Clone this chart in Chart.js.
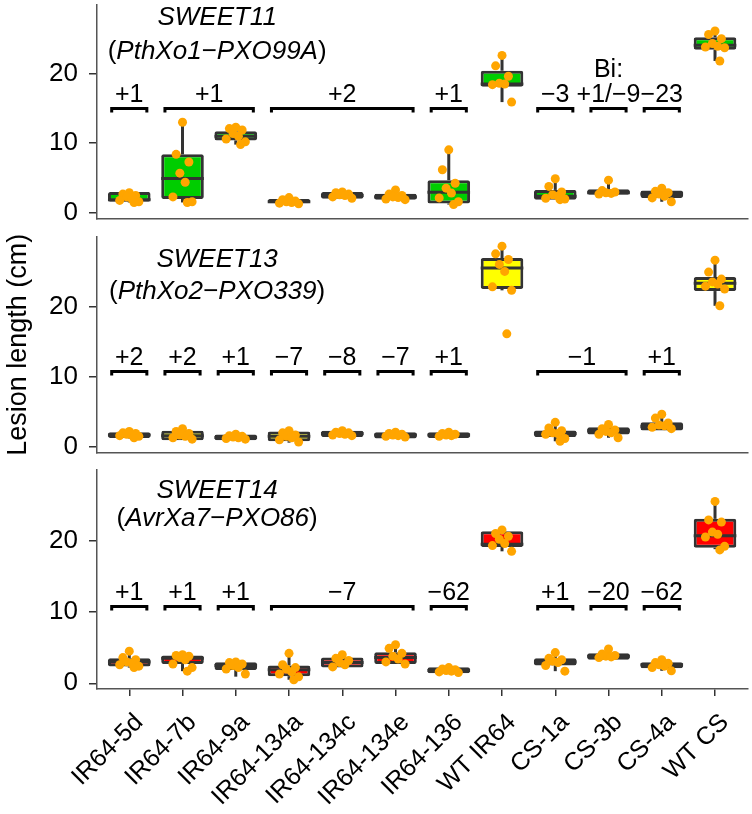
<!DOCTYPE html>
<html>
<head>
<meta charset="utf-8">
<script src="https://cdn.jsdelivr.net/npm/chart.js@4.4.1/dist/chart.umd.min.js"></script>
<style>
  body { margin: 0; background: #ffffff; }
  #wrap { position: relative; width: 752px; height: 814px; }
  .panel { position: absolute; left: 0; width: 752px; }
</style>
</head>
<body>
<div id="wrap">
  <div class="panel" style="top:0px;height:223px"><canvas id="c11"></canvas></div>
  <div class="panel" style="top:225px;height:232px"><canvas id="c13"></canvas></div>
  <div class="panel" style="top:458px;height:356px"><canvas id="c14"></canvas></div>
</div>
<script>
const categories = ['IR64-5d', 'IR64-7b', 'IR64-9a', 'IR64-134a', 'IR64-134c', 'IR64-134e',
                    'IR64-136', 'WT IR64', 'CS-1a', 'CS-3b', 'CS-4a', 'WT CS'];
const yTicks = [0, 10, 20];

// SWEET11 (PthXo1-PXO99A)
const s11Low    = [1.5, 1.5, 9.8, 1.3, 2.1, 1.9, 1.2, 15.9, 1.9, 2.6, 1.6, 21.8];
const s11Q1     = [1.6, 2.0, 10.4, 1.4, 2.05, 1.9, 1.35, 18.1, 1.9, 2.6, 2.15, 23.4];
const s11Median = [1.9, 4.95, 11.0, 1.6, 2.5, 2.3, 2.95, 18.5, 2.4, 2.9, 2.7, 24.05];
const s11Q3     = [3.0, 8.4, 11.7, 2.0, 3.0, 2.75, 4.7, 20.4, 3.3, 3.4, 3.2, 25.2];
const s11High   = [3.0, 13.0, 12.3, 2.2, 3.0, 3.3, 9.05, 22.6, 4.9, 4.7, 3.55, 26.1];
const s11Points = [
  [2.9, 2.7, 2.5, 2.3, 2.0, 1.8, 1.6, 1.5],
  [13.0, 8.4, 7.3, 5.7, 4.4, 2.3, 1.6, 1.5],
  [12.3, 12.1, 11.9, 11.4, 11.0, 10.6, 10.2, 9.8],
  [2.2, 1.9, 1.7, 1.6, 1.5, 1.4, 1.3],
  [3.0, 2.9, 2.7, 2.6, 2.5, 2.3, 2.1],
  [3.3, 2.7, 2.5, 2.3, 2.2, 2.0, 1.9],
  [9.05, 6.2, 4.25, 3.55, 2.85, 2.15, 1.6, 1.2],
  [22.6, 21.1, 19.6, 18.6, 18.5, 18.4, 15.9],
  [4.9, 3.8, 3.0, 2.6, 2.4, 2.1, 2.0, 1.9],
  [4.7, 3.2, 3.0, 2.9, 2.8, 2.7],
  [3.55, 3.1, 2.9, 2.7, 2.4, 2.15, 1.6],
  [26.1, 25.6, 25.0, 24.3, 23.9, 23.8, 23.7, 21.8]
];
const s11Tags = [[0, 0, '+1'], [1, 2, '+1'], [3, 5, '+2'], [6, 6, '+1'],
                 [8, 8, '\u22123'], [9, 9, 'Bi:\n+1/\u22129'], [10, 10, '\u221223']];

// SWEET13 (PthXo2-PXO339)
const s13Low    = [1.2, 0.95, 0.95, 0.6, 1.4, 1.2, 1.27, 22.3, 0.8, 1.3, 2.35, 20.1];
const s13Q1     = [1.27, 0.95, 0.95, 0.8, 1.4, 1.2, 1.27, 22.5, 1.4, 1.75, 2.35, 22.2];
const s13Median = [1.7, 1.6, 1.35, 1.5, 1.9, 1.7, 1.7, 25.5, 1.9, 2.3, 2.9, 23.3];
const s13Q3     = [2.1, 2.3, 1.75, 2.2, 2.3, 2.1, 2.1, 26.9, 2.35, 2.8, 3.5, 24.2];
const s13High   = [2.3, 2.6, 1.8, 2.4, 2.4, 2.2, 2.1, 28.6, 3.5, 3.2, 4.65, 26.6];
const s13Points = [
  [2.2, 2.0, 1.9, 1.8, 1.7, 1.6, 1.5, 1.3],
  [2.6, 2.2, 1.9, 1.7, 1.5, 1.3, 1.1],
  [1.8, 1.6, 1.5, 1.4, 1.3, 1.2, 1.1],
  [2.3, 2.0, 1.7, 1.5, 1.3, 1.0, 0.7],
  [2.3, 2.1, 2.0, 1.9, 1.8, 1.7, 1.6],
  [2.1, 1.9, 1.8, 1.7, 1.6, 1.5, 1.4],
  [2.1, 1.9, 1.8, 1.7, 1.6, 1.5],
  [28.6, 27.5, 26.7, 26.0, 25.0, 22.8, 22.3, 16.1],
  [3.5, 2.7, 2.3, 2.0, 1.9, 1.8, 1.2, 0.8],
  [3.2, 2.6, 2.4, 2.2, 2.0, 1.8, 1.3],
  [4.65, 4.1, 3.4, 3.1, 3.0, 2.8, 2.6],
  [26.6, 24.9, 23.9, 23.5, 23.2, 22.9, 22.5, 20.1]
];
const s13Tags = [[0, 0, '+2'], [1, 1, '+2'], [2, 2, '+1'], [3, 3, '\u22127'], [4, 4, '\u22128'],
                 [5, 5, '\u22127'], [6, 6, '+1'], [8, 9, '\u22121'], [10, 10, '+1']];

// SWEET14 (AvrXa7-PXO86)
const s14Low    = [2.2, 1.7, 0.93, 0.5, 2.2, 2.7, 1.4, 18.5, 1.7, 3.3, 1.75, 18.8];
const s14Q1     = [2.35, 2.7, 1.85, 1.0, 2.2, 2.7, 1.4, 19.1, 2.5, 3.3, 2.1, 19.0];
const s14Median = [3.0, 3.5, 2.5, 1.9, 2.9, 3.6, 1.8, 19.5, 3.0, 3.8, 2.6, 20.7];
const s14Q3     = [3.5, 3.9, 2.95, 2.5, 3.6, 4.35, 2.25, 21.3, 3.5, 4.2, 2.95, 23.05];
const s14High   = [4.5, 4.0, 3.0, 4.2, 4.0, 5.4, 2.25, 21.5, 4.3, 4.8, 3.3, 25.5];
const s14Points = [
  [4.5, 3.6, 3.3, 3.0, 2.8, 2.6, 2.4, 2.2],
  [4.0, 3.9, 3.8, 3.6, 3.3, 2.7, 2.2, 1.7],
  [3.0, 2.9, 2.7, 2.5, 2.2, 2.0, 1.3],
  [4.2, 2.6, 2.2, 2.0, 1.6, 1.3, 0.9, 0.5],
  [4.0, 3.5, 3.2, 2.9, 2.6, 2.3],
  [5.4, 4.9, 4.2, 3.8, 3.4, 3.0, 2.7],
  [2.2, 2.0, 1.9, 1.8, 1.7, 1.6, 1.5],
  [21.5, 21.0, 20.6, 20.2, 19.6, 19.3, 18.5],
  [4.3, 3.5, 3.3, 3.1, 2.9, 2.5, 1.7],
  [4.8, 4.1, 3.9, 3.8, 3.7, 3.6],
  [3.3, 2.9, 2.8, 2.6, 2.4, 2.2, 1.75],
  [25.5, 22.9, 22.6, 21.2, 20.9, 20.5, 19.2, 18.7]
];
const s14Tags = [[0, 0, '+1'], [1, 1, '+1'], [2, 2, '+1'], [3, 5, '\u22127'], [6, 6, '\u221262'],
                 [8, 8, '+1'], [9, 9, '\u221220'], [10, 10, '\u221262']];

const FONT = "'Liberation Sans', Arial, Helvetica, sans-serif";
const jitter = [0, -0.12, 0.12, -0.05, 0.05, -0.18, 0.18, 0.09];

function seg(ctx, x1, y1, x2, y2) {
    ctx.beginPath();
    ctx.moveTo(x1, y1);
    ctx.lineTo(x2, y2);
    ctx.stroke();
}

// whiskers, medians, titles and the allele brackets
function extras(p) {
    return {
        id: 'extras',
        afterDatasetDraw(chart, args) {
            if (args.index !== 0) return;
            const ctx = chart.ctx;
            const x = chart.scales.x, y = chart.scales.y;
            const half = chart.getDatasetMeta(0).data[0].width / 2;
            ctx.save();
            ctx.strokeStyle = '#333333';
            ctx.lineWidth = 3;
            for (let i = 0; i < categories.length; i++) {
                const cx = x.getPixelForValue(i);
                if (p.high[i] > p.q3[i]) seg(ctx, cx, y.getPixelForValue(p.q3[i]), cx, y.getPixelForValue(p.high[i]));
                if (p.low[i] < p.q1[i]) seg(ctx, cx, y.getPixelForValue(p.q1[i]), cx, y.getPixelForValue(p.low[i]));
                const ym = y.getPixelForValue(p.median[i]);
                seg(ctx, cx - half, ym, cx + half, ym);
            }
            ctx.restore();
        },
        afterDraw(chart) {
            const ctx = chart.ctx;
            const x = chart.scales.x, y = chart.scales.y;
            const top = chart.chartArea.top;
            ctx.save();
            ctx.fillStyle = '#000000';
            ctx.textBaseline = 'alphabetic';

            // panel title
            const tx = x.getPixelForValue(1.65);
            ctx.font = 'italic 26px ' + FONT;
            ctx.textAlign = 'center';
            ctx.fillText(p.gene, tx, top + p.titleOff[0]);
            const parts = [['(', ''], [p.strain, 'italic '], [')', '']];
            let total = 0;
            parts.forEach(pt => { ctx.font = pt[1] + '26px ' + FONT; total += ctx.measureText(pt[0]).width; });
            let px = tx - total / 2;
            ctx.textAlign = 'left';
            parts.forEach(pt => {
                ctx.font = pt[1] + '26px ' + FONT;
                ctx.fillText(pt[0], px, top + p.titleOff[1]);
                px += ctx.measureText(pt[0]).width;
            });

            // brackets
            const yb = Math.round(y.getPixelForValue(p.tagLevel)) + 0.5;
            ctx.strokeStyle = '#000000';
            ctx.lineWidth = 3;
            ctx.textAlign = 'center';
            ctx.font = '25px ' + FONT;
            p.tags.forEach(t => {
                const x1 = x.getPixelForValue(t[0] - 0.33);
                const x2 = x.getPixelForValue(t[1] + 0.33);
                ctx.beginPath();
                ctx.moveTo(x1, yb + 4);
                ctx.lineTo(x1, yb);
                ctx.lineTo(x2, yb);
                ctx.lineTo(x2, yb + 4);
                ctx.stroke();
                const lines = t[2].split('\n').reverse();
                lines.forEach((s, k) => ctx.fillText(s, (x1 + x2) / 2, yb - 7 - k * 25));
            });
            ctx.restore();
        }
    };
}

function makePanel(id, p) {
    const boxData = categories.map((c, i) => ({x: i, y: [p.q1[i], p.q3[i]]}));
    const pointData = [];
    p.points.forEach((vals, i) => {
        vals.forEach((v, k) => pointData.push({x: i + jitter[k % jitter.length], y: v}));
    });

    return new Chart(document.getElementById(id), {
        type: 'bar',
        data: {
            datasets: [{
                type: 'bar',
                data: boxData,
                backgroundColor: p.fill,
                borderColor: '#333333',
                borderWidth: 3,
                borderSkipped: false,
                borderRadius: 2,
                barPercentage: 0.8,
                categoryPercentage: 1,
                order: 2
            }, {
                type: 'scatter',
                data: pointData,
                backgroundColor: '#FFA500',
                pointBackgroundColor: '#FFA500',
                pointRadius: 4.5,
                pointBorderWidth: 0,
                order: 1
            }]
        },
        options: {
            responsive: true,
            maintainAspectRatio: false,
            animation: false,
            events: [],
            layout: { padding: { top: p.padTop, left: 0, right: 0, bottom: 0 } },
            plugins: { legend: { display: false }, tooltip: { enabled: false } },
            scales: {
                x: {
                    type: 'linear',
                    min: -0.606,
                    max: 11.61,
                    offset: false,
                    grid: { offset: false, drawOnChartArea: false, drawTicks: p.showX, tickLength: 7,
                            color: '#333333', lineWidth: 1.5 },
                    border: { color: '#555555', width: 1.5 },
                    ticks: {
                        display: p.showX,
                        autoSkip: false,
                        minRotation: 45,
                        maxRotation: 45,
                        padding: 12,
                        labelOffset: 10,
                        color: '#000000',
                        font: { family: FONT, size: 25 },
                        callback: v => categories[v]
                    },
                    afterBuildTicks: s => { s.ticks = categories.map((c, i) => ({value: i})); },
                    afterFit: s => {
                        s.height = p.xHeight;
                        s.paddingLeft = 0;
                        s.paddingRight = 0;
                    }
                },
                y: {
                    min: -0.8,
                    max: 29.9,
                    grid: { drawOnChartArea: false, drawTicks: true, tickLength: 8,
                            color: '#333333', lineWidth: 1.5 },
                    border: { color: '#555555', width: 1.5 },
                    ticks: { padding: 11, color: '#000000', font: { family: FONT, size: 26 } },
                    afterBuildTicks: s => { s.ticks = yTicks.map(v => ({value: v})); },
                    afterFit: s => {
                        s.width = 97;
                        s.paddingTop = 0;
                        s.paddingBottom = 0;
                    },
                    title: {
                        display: p.yTitle,
                        text: 'Lesion length (cm)',
                        color: '#000000',
                        font: { family: FONT, size: 27 },
                        padding: { top: 2, bottom: 0 }
                    }
                }
            }
        },
        plugins: [extras(p)]
    });
}

function main() {
    makePanel('c11', {
        gene: 'SWEET11', strain: 'PthXo1\u2212PXO99A', fill: '#00CD00',
        low: s11Low, q1: s11Q1, median: s11Median, q3: s11Q3, high: s11High, points: s11Points,
        tags: s11Tags, tagLevel: 15.0, titleOff: [20.7, 54.7],
        padTop: 2, xHeight: 2, showX: false, yTitle: false
    });
    makePanel('c13', {
        gene: 'SWEET13', strain: 'PthXo2\u2212PXO339', fill: '#FFFF00',
        low: s13Low, q1: s13Q1, median: s13Median, q3: s13Q3, high: s13High, points: s13Points,
        tags: s13Tags, tagLevel: 10.8, titleOff: [29.7, 62],
        padTop: 12, xHeight: 2, showX: false, yTitle: true
    });
    makePanel('c14', {
        gene: 'SWEET14', strain: 'AvrXa7\u2212PXO86', fill: '#FF0000',
        low: s14Low, q1: s14Q1, median: s14Median, q3: s14Q3, high: s14High, points: s14Points,
        tags: s14Tags, tagLevel: 10.8, titleOff: [27.7, 55.7],
        padTop: 12, xHeight: 125, showX: true, yTitle: false
    });
}

main();
</script>
</body>
</html>
